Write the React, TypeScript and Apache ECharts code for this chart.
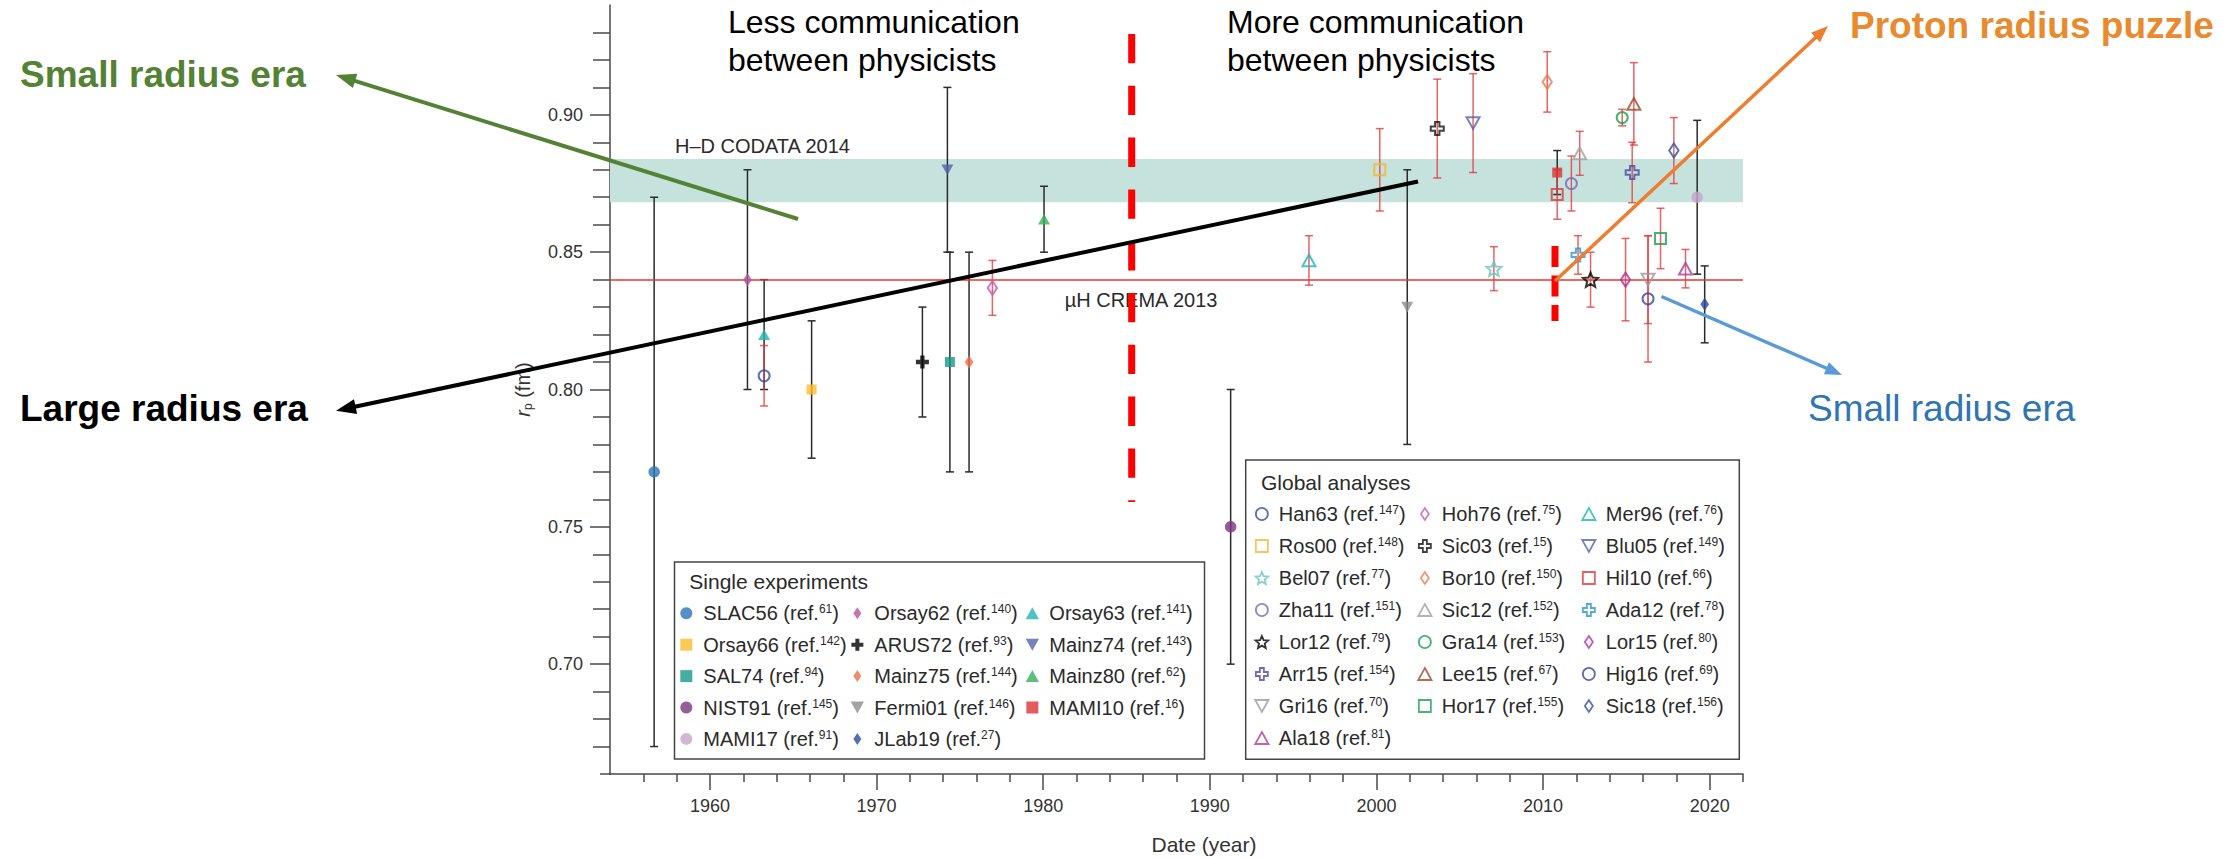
import { useEffect, useRef } from 'react';
import * as echarts from 'echarts';

// ---- Single experiments (legend order) ----
const singleNames = ['SLAC56', 'Orsay62', 'Orsay63', 'Orsay66', 'ARUS72', 'Mainz74', 'SAL74', 'Mainz75', 'Mainz80', 'NIST91', 'Fermi01', 'MAMI10', 'MAMI17', 'JLab19'];
const singleRefs = ['61', '140', '141', '142', '93', '143', '94', '144', '62', '145', '146', '16', '91', '27'];
const singleYears = [1956.65, 1962.25, 1963.25, 1966.1, 1972.75, 1974.25, 1974.4, 1975.55, 1980.05, 1991.25, 2001.85, 2010.85, 2019.25, 2019.7];
const singleRadii = [0.770, 0.840, 0.820, 0.800, 0.810, 0.880, 0.810, 0.810, 0.862, 0.750, 0.830, 0.879, 0.870, 0.831];
const singleErrors = [0.100, 0.040, 0.020, 0.025, 0.020, 0.030, 0.040, 0.040, 0.012, 0.050, 0.050, 0.008, 0.028, 0.014];

// ---- Global analyses (legend order) ----
const globalNames = ['Han63', 'Hoh76', 'Mer96', 'Ros00', 'Sic03', 'Blu05', 'Bel07', 'Bor10', 'Hil10', 'Zha11', 'Sic12', 'Ada12', 'Lor12', 'Gra14', 'Lor15', 'Arr15', 'Lee15', 'Hig16', 'Gri16', 'Hor17', 'Sic18', 'Ala18'];
const globalRefs = ['147', '75', '76', '148', '15', '149', '77', '150', '66', '151', '152', '78', '79', '153', '80', '154', '67', '69', '70', '155', '156', '81'];
const globalYears = [1963.25, 1976.95, 1995.95, 2000.2, 2003.65, 2005.8, 2007.05, 2010.25, 2010.85, 2011.7, 2012.2, 2012.1, 2012.85, 2014.75, 2014.95, 2015.35, 2015.45, 2016.3, 2016.3, 2017.05, 2017.85, 2018.55];
const globalRadii = [0.805, 0.837, 0.847, 0.880, 0.895, 0.897, 0.844, 0.912, 0.871, 0.875, 0.886, 0.849, 0.840, 0.899, 0.840, 0.879, 0.904, 0.833, 0.840, 0.855, 0.887, 0.844];
const globalErrors = [0.011, 0.010, 0.009, 0.015, 0.018, 0.018, 0.008, 0.011, 0.009, 0.010, 0.008, 0.007, 0.010, 0.003, 0.015, 0.011, 0.015, 0.023, 0.016, 0.011, 0.012, 0.007];

// ---- Reference values ----
const codataBand = [0.8682, 0.8839];
const cremaRadius = 0.8409;

// ---- Axis ticks ----
const xMajorTicks = [1960, 1970, 1980, 1990, 2000, 2010, 2020];
const xMinorTicks = [1956, 1958, 1962, 1964, 1966, 1968, 1972, 1974, 1976, 1978, 1982, 1984, 1986, 1988, 1992, 1994, 1996, 1998, 2002, 2004, 2006, 2008, 2012, 2014, 2016, 2018, 2022];
const yMajorTicks = [0.70, 0.75, 0.80, 0.85, 0.90];
const yMinorTicks = [0.67, 0.68, 0.69, 0.71, 0.72, 0.73, 0.74, 0.76, 0.77, 0.78, 0.79, 0.81, 0.82, 0.83, 0.84, 0.86, 0.87, 0.88, 0.89, 0.91, 0.92, 0.93];

// ---- Marker styles ----
const singleColors = ['#2a74b8', '#b2539f', '#22b5b3', '#fbbc2c', '#000000', '#5462ad', '#17998a', '#ee6e4a', '#35b15c', '#7d3580', '#8c8c8c', '#df3234', '#c6a5c9', '#2a4a9e'];
const singleShapes = ['circle', 'diamond', 'triUp', 'square', 'plus', 'triDown', 'square', 'diamond', 'triUp', 'circle', 'triDown', 'square', 'circle', 'diamond'];
const globalColors = ['#2e4fa0', '#c060b0', '#1fb5b5', '#f5b731', '#111111', '#5563b0', '#6cc6be', '#f07a50', '#e0383a', '#7a68b5', '#a0a0a0', '#2a93d5', '#000000', '#1aa050', '#b0309f', '#4a48a8', '#a04a28', '#3048a0', '#9a9a9a', '#1aa050', '#2f4ea2', '#b03c9c'];
const globalShapes = ['circle', 'diamond', 'triUp', 'square', 'plus', 'triDown', 'star', 'diamond', 'square', 'circle', 'triUp', 'plus', 'star', 'circle', 'diamond', 'plus', 'triUp', 'circle', 'triDown', 'square', 'diamond', 'triUp'];

const SYMBOLS: Record<string, string> = {
  circle: 'circle',
  square: 'path://M0,0L1,0L1,1L0,1Z',
  triUp: 'path://M0,0L1,1.8L-1,1.8Z',
  triDown: 'path://M-1,0L1,0L0,1.8Z',
  diamond: 'path://M0,0L1,1.5L0,3L-1,1.5Z',
  plus: 'path://M1,0L2,0L2,1L3,1L3,2L2,2L2,3L1,3L1,2L0,2L0,1L1,1Z',
  star: 'path://M0,-1L0.2645,-0.364L0.951,-0.309L0.428,0.139L0.588,0.809L0,0.45L-0.588,0.809L-0.428,0.139L-0.951,-0.309L-0.2645,-0.364Z',
};
const FILLED_SIZE: Record<string, number> = { circle: 11.5, square: 10, triUp: 12, triDown: 12, diamond: 13, plus: 13, star: 14 };
const OPEN_SIZE: Record<string, number> = { circle: 11, square: 11, triUp: 13, triDown: 13, diamond: 14, plus: 13, star: 15 };

const FONT = '"Liberation Sans", Arial, Helvetica, sans-serif';
const AXIS_COLOR = '#4a4a4a';
const TEXT_COLOR = '#2a2a2a';

const refOf: Record<string, string> = {};
singleNames.forEach((n, i) => (refOf[n] = singleRefs[i]));
globalNames.forEach((n, i) => (refOf[n] = globalRefs[i]));

const makeErrorBar = (stroke: string) => (_params: any, api: any) => {
  const x = api.value(0);
  const top = api.coord([x, api.value(2)]);
  const bottom = api.coord([x, api.value(1)]);
  const cap = 4;
  const style = { stroke, lineWidth: 1.5 };
  return {
    type: 'group',
    children: [
      { type: 'line', shape: { x1: top[0], y1: top[1], x2: bottom[0], y2: bottom[1] }, style },
      { type: 'line', shape: { x1: top[0] - cap, y1: top[1], x2: top[0] + cap, y2: top[1] }, style },
      { type: 'line', shape: { x1: bottom[0] - cap, y1: bottom[1], x2: bottom[0] + cap, y2: bottom[1] }, style },
    ],
  };
};

const openStyle = (c: string) => ({ color: 'rgba(255,255,255,0)', borderColor: c, borderWidth: 2 });
const filledStyle = (c: string) => ({ color: c, borderWidth: 0 });

const markerSeries = [
  ...singleNames.map((name, i) => ({
    type: 'scatter',
    name,
    data: [[singleYears[i], singleRadii[i]]],
    symbol: SYMBOLS[singleShapes[i]],
    symbolSize: FILLED_SIZE[singleShapes[i]],
    symbolKeepAspect: true,
    itemStyle: filledStyle(singleColors[i]),
    z: 5,
    silent: true,
  })),
  ...globalNames.map((name, i) => ({
    type: 'scatter',
    name,
    data: [[globalYears[i], globalRadii[i]]],
    symbol: SYMBOLS[globalShapes[i]],
    symbolSize: OPEN_SIZE[globalShapes[i]],
    symbolKeepAspect: true,
    itemStyle: openStyle(globalColors[i]),
    z: 6,
    silent: true,
  })),
];

const legendText = {
  overflow: 'none',
  lineHeight: 20,
  rich: {
    n: { fontSize: 20, fontFamily: FONT, color: TEXT_COLOR, lineHeight: 20 },
    s: { fontSize: 12, fontFamily: FONT, color: TEXT_COLOR, lineHeight: 12, verticalAlign: 'top' },
  },
};
const legendFormatter = (name: string) => `{n|${name} (ref.}{s|${refOf[name]}}{n|)}`;

// One vertical legend per column; items taken row by row in groups of three
const columnLegends = (names: string[], shapes: string[], itemStyleOf: (i: number) => any, lefts: number[], top: number, gap: number) =>
  lefts.map((left, col) => ({
    orient: 'vertical',
    left,
    top,
    padding: 0,
    itemGap: gap,
    itemWidth: 24,
    itemHeight: 12,
    selectedMode: false,
    data: names
      .map((name, i) => ({ name, i }))
      .filter(({ i }) => i % 3 === col)
      .map(({ name, i }) => ({ name, icon: SYMBOLS[shapes[i]], itemStyle: itemStyleOf(i) })),
    formatter: legendFormatter,
    textStyle: legendText,
  }));

const legends = [
  ...columnLegends(singleNames, singleShapes, (i) => filledStyle(singleColors[i]), [680.3, 850.7, 1025.7], 603.3, 11.4),
  ...columnLegends(globalNames, globalShapes, (i) => ({ ...openStyle(globalColors[i]), borderWidth: 1.8 }), [1254.3, 1417.3, 1581.3], 504, 12),
];

// Straight arrow with a triangular head ending at (x2, y2)
const arrow = (x1: number, y1: number, x2: number, y2: number, color: string, width: number, headLen: number, headW: number) => {
  const dx = x2 - x1;
  const dy = y2 - y1;
  const len = Math.hypot(dx, dy);
  const ux = dx / len;
  const uy = dy / len;
  const bx = x2 - ux * headLen;
  const by = y2 - uy * headLen;
  const nx = -uy;
  const ny = ux;
  return [
    { type: 'line', z: 60, silent: true, shape: { x1, y1, x2: bx + ux * 2, y2: by + uy * 2 }, style: { stroke: color, lineWidth: width } },
    {
      type: 'polygon',
      z: 61,
      silent: true,
      shape: { points: [[x2, y2], [bx + (nx * headW) / 2, by + (ny * headW) / 2], [bx - (nx * headW) / 2, by - (ny * headW) / 2]] },
      style: { fill: color },
    },
  ];
};

const label = (text: string, x: number, y: number, size: number, color: string, weight = 'normal', extra: any = {}) => ({
  type: 'text',
  z: 62,
  silent: true,
  x,
  y,
  style: {
    text,
    fill: color,
    fontSize: size,
    fontFamily: FONT,
    fontWeight: weight,
    align: 'left',
    verticalAlign: 'middle',
    ...extra,
  },
});

const graphicElements: any[] = [
  // x axis line runs a little past the y axis
  { type: 'line', z: 10, silent: true, shape: { x1: 600, y1: 774, x2: 611, y2: 774 }, style: { stroke: AXIS_COLOR, lineWidth: 1.5 } },
  // legend frames
  { type: 'rect', z: 1, silent: true, shape: { x: 674.5, y: 562, width: 530, height: 197 }, style: { fill: '#fff', stroke: '#444', lineWidth: 1.5 } },
  { type: 'rect', z: 1, silent: true, shape: { x: 1245.7, y: 460, width: 493.6, height: 299.3 }, style: { fill: '#fff', stroke: '#444', lineWidth: 1.5 } },
  label('Single experiments', 689.3, 581, 21, TEXT_COLOR),
  label('Global analyses', 1261, 482, 21, TEXT_COLOR),
  // reference labels
  { ...label('H\u2013D CODATA 2014', 675, 145.5, 20, TEXT_COLOR), z: 8 },
  { ...label('\u00b5H CREMA 2013', 1064.7, 299.5, 20, TEXT_COLOR), z: 8 },
  // era separators
  { type: 'line', z: 50, silent: true, shape: { x1: 1131.7, y1: 34, x2: 1131.7, y2: 502 }, style: { stroke: '#ff0000', lineWidth: 7, lineDash: [29.3, 22.5] } },
  { type: 'line', z: 50, silent: true, shape: { x1: 1555, y1: 246, x2: 1555, y2: 321 }, style: { stroke: '#ff0000', lineWidth: 7, lineDash: [21, 8.5] } },
  // annotation arrows
  ...arrow(798, 219, 336, 75, '#548235', 4, 20, 15),
  ...arrow(1418, 181.5, 336, 410.7, '#000000', 4, 20, 15),
  ...arrow(1555, 281, 1828, 26, '#ed7d31', 3.5, 17, 13),
  ...arrow(1661.5, 296.5, 1842, 375, '#5b9bd5', 3.5, 17, 13),
  // annotation texts
  label('Less communication\nbetween physicists', 728, 3, 32, '#000', 'normal', { verticalAlign: 'top', lineHeight: 38 }),
  label('More communication\nbetween physicists', 1227, 3, 32, '#000', 'normal', { verticalAlign: 'top', lineHeight: 38 }),
  label('Small radius era', 20, 74.5, 37, '#548235', 'bold'),
  label('Large radius era', 20, 408.7, 37, '#000000', 'bold'),
  label('Proton radius puzzle', 1850, 25.3, 37, '#e88a2e', 'bold'),
  label('Small radius era', 1808, 408.7, 37, '#2f74b5', 'normal'),
];

const axisLineStyle = { color: AXIS_COLOR, width: 1.5 };

const option: any = {
  animation: false,
  backgroundColor: '#ffffff',
  grid: { left: 610, top: 5, width: 1133, height: 769, containLabel: false, outerBoundsMode: 'none' },
  xAxis: [
    {
      type: 'value',
      min: 1954,
      max: 2022,
      position: 'bottom',
      axisLine: { show: true, onZero: false, lineStyle: axisLineStyle },
      axisTick: { show: true, customValues: xMajorTicks, length: 16, lineStyle: axisLineStyle },
      axisLabel: { customValues: xMajorTicks, margin: 23, fontSize: 18, fontFamily: FONT, color: '#333', formatter: (v: number) => String(v) },
      splitLine: { show: false },
      name: 'Date (year)',
      nameLocation: 'middle',
      nameGap: 60,
      nameTextStyle: { fontSize: 21, fontFamily: FONT, color: '#333', padding: [0, 0, 0, 55] },
    },
    {
      type: 'value',
      min: 1954,
      max: 2022,
      position: 'bottom',
      axisLine: { show: false, onZero: false },
      axisTick: { show: true, customValues: xMinorTicks, length: 8, lineStyle: axisLineStyle },
      axisLabel: { show: false },
      splitLine: { show: false },
    },
  ],
  yAxis: [
    {
      type: 'value',
      min: 0.66,
      max: 0.94,
      position: 'left',
      axisLine: { show: true, onZero: false, lineStyle: axisLineStyle },
      axisTick: { show: true, customValues: yMajorTicks, length: 20, lineStyle: axisLineStyle },
      axisLabel: { customValues: yMajorTicks, margin: 27, fontSize: 18, fontFamily: FONT, color: '#333', formatter: (v: number) => v.toFixed(2) },
      splitLine: { show: false },
      name: '{i|r}{s|p}{n| (fm)}',
      nameLocation: 'middle',
      nameGap: 76,
      nameTextStyle: {
        lineHeight: 22,
        rich: {
          i: { fontSize: 20, fontStyle: 'italic', fontFamily: FONT, color: '#333', lineHeight: 22 },
          s: { fontSize: 12, fontFamily: FONT, color: '#333', lineHeight: 10, verticalAlign: 'bottom' },
          n: { fontSize: 20, fontFamily: FONT, color: '#333', lineHeight: 22 },
        },
      },
    },
    {
      type: 'value',
      min: 0.66,
      max: 0.94,
      position: 'left',
      axisLine: { show: false, onZero: false },
      axisTick: { show: true, customValues: yMinorTicks, length: 17, lineStyle: axisLineStyle },
      axisLabel: { show: false },
      splitLine: { show: false },
    },
  ],
  legend: legends,
  series: [
    {
      type: 'scatter',
      name: 'reference',
      data: [],
      z: 1,
      silent: true,
      markArea: {
        silent: true,
        itemStyle: { color: '#c5e2dd', opacity: 1 },
        data: [[{ yAxis: codataBand[0] }, { yAxis: codataBand[1] }]],
      },
      markLine: {
        silent: true,
        symbol: 'none',
        label: { show: false },
        lineStyle: { color: '#e53935', width: 1.5, type: 'solid' },
        data: [{ yAxis: cremaRadius }],
      },
    },
    {
      type: 'custom',
      name: 'single-errors',
      z: 3,
      silent: true,
      encode: { x: 0, y: [1, 2] },
      data: singleNames.map((_, i) => [singleYears[i], singleRadii[i] - singleErrors[i], singleRadii[i] + singleErrors[i]]),
      renderItem: makeErrorBar('#2b2b2b'),
    },
    {
      type: 'custom',
      name: 'global-errors',
      z: 4,
      silent: true,
      encode: { x: 0, y: [1, 2] },
      data: globalNames.map((_, i) => [globalYears[i], globalRadii[i] - globalErrors[i], globalRadii[i] + globalErrors[i]]),
      renderItem: makeErrorBar('rgba(226, 60, 60, 0.8)'),
    },
    ...markerSeries,
  ],
  graphic: { elements: graphicElements },
};

export default function App() {
  const ref = useRef<HTMLDivElement>(null);
  useEffect(() => {
    const chart = echarts.init(ref.current as HTMLDivElement, null, { renderer: 'svg' });
    chart.setOption(option);
    return () => chart.dispose();
  }, []);
  return (
    <div
      ref={ref}
      style={{ position: 'fixed', left: 0, top: 0, width: 2234, height: 858, background: '#ffffff' }}
    />
  );
}
